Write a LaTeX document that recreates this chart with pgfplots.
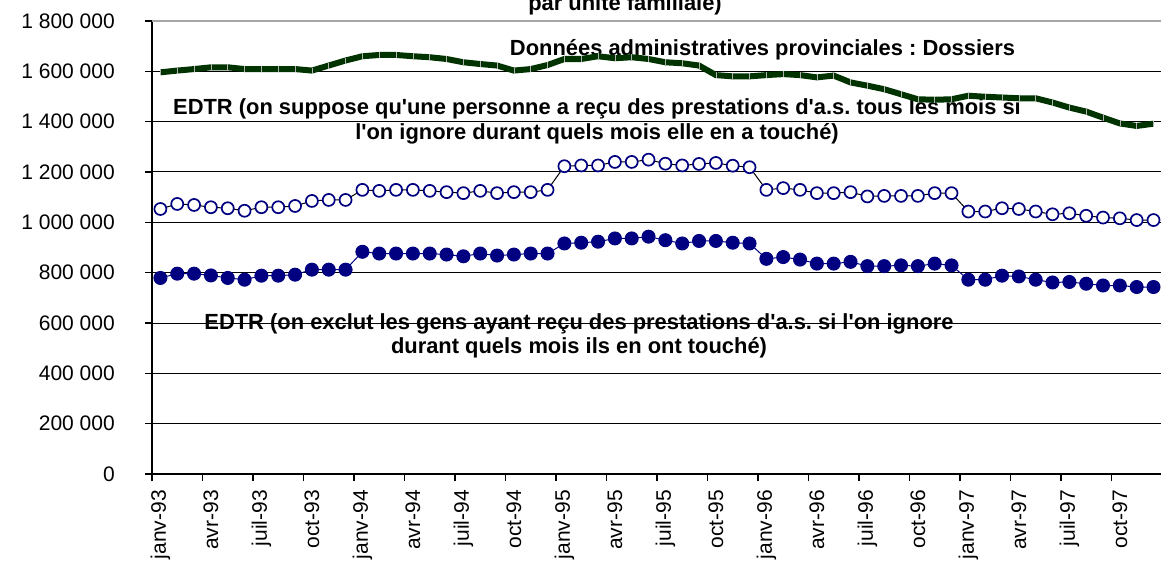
\documentclass[border=0pt]{standalone}
\usepackage{pgfplots}
\pgfplotsset{compat=1.18}
\usepackage{pgfplotstable}
\usepackage{fontspec}
\setmainfont{Liberation Sans}
\definecolor{navyc}{RGB}{0,0,128}
\definecolor{dgreen}{RGB}{0,51,0}
\newcommand{\q}{\textquotesingle}
\frenchspacing

\pgfplotstableread{
x G O F
0 1596 1053 779
1 1603 1073 796
2 1609 1069 796
3 1616 1060 789
4 1616 1056 779
5 1609 1046 772
6 1609 1060 788
7 1609 1060 788
8 1609 1065 792
9 1603 1085 812
10 1623 1089 812
11 1643 1089 812
12 1660 1129 883
13 1665 1125 876
14 1665 1129 876
15 1660 1129 876
16 1656 1125 876
17 1649 1120 872
18 1636 1116 865
19 1629 1125 876
20 1623 1116 868
21 1603 1120 872
22 1609 1120 876
23 1625 1129 876
24 1649 1223 916
25 1649 1226 919
26 1660 1226 923
27 1652 1240 936
28 1656 1240 936
29 1649 1249 943
30 1636 1233 929
31 1632 1226 916
32 1623 1232 926
33 1585 1236 926
34 1580 1225 919
35 1580 1219 916
36 1585 1129 855
37 1589 1136 862
38 1585 1129 852
39 1576 1116 836
40 1583 1116 836
41 1556 1120 843
42 1543 1103 826
43 1529 1105 826
44 1509 1105 829
45 1489 1105 826
46 1487 1116 836
47 1489 1116 829
48 1503 1043 772
49 1499 1043 772
50 1496 1056 788
51 1493 1053 785
52 1493 1043 772
53 1476 1032 761
54 1456 1036 763
55 1440 1026 756
56 1416 1019 749
57 1393 1016 749
58 1383 1009 743
59 1392 1009 743
}\datatable

\begin{document}
\begin{tikzpicture}[x=1pt,y=1pt,font=\fontsize{21}{25}\selectfont]
\tikzset{ann/.style={anchor=base,font=\fontsize{21.9}{26}\selectfont\bfseries}}
% annotations (drawn first, under the grid and series)
\node[ann] at (625,552) {par unité familiale)};
\node[ann] at (762.5,507) {Données administratives provinciales : Dossiers};
\node[ann] at (597,448) {EDTR (on suppose qu\q une personne a reçu des prestations d\q a.s. tous les mois si};
\node[ann] at (597,423) {l\q on ignore durant quels mois elle en a touché)};
\node[ann] at (579,234) {EDTR (on exclut les gens ayant reçu des prestations d\q a.s. si l\q on ignore};
\node[ann] at (579,210) {durant quels mois ils en ont touché)};
\begin{axis}[
  at={(152pt,89pt)}, anchor=south west,
  scale only axis, width=1010pt, height=453pt,
  xmin=-0.5, xmax=59.5, ymin=0, ymax=1800,
  axis x line*=bottom, axis y line*=left,
  axis line style={black, line width=2pt, -},
  ymajorgrids, grid style={black, line width=1pt},
  tick align=outside, major tick length=7pt,
  tick style={black, line width=1.3pt},
  ytick={0,200,...,1800},
  yticklabels={0,200 000,400 000,600 000,800 000,1 000 000,1 200 000,1 400 000,1 600 000,1 800 000},
  yticklabel style={anchor=east, inner sep=0pt},
  yticklabel shift=30pt,
  xtick={-0.5,2.5,...,59.5},
  xticklabels={},
  extra x ticks={0,3,...,57},
  extra x tick labels={janv-93,avr-93,juil-93,oct-93,janv-94,avr-94,juil-94,oct-94,janv-95,avr-95,juil-95,oct-95,janv-96,avr-96,juil-96,oct-96,janv-97,avr-97,juil-97,oct-97},
  extra x tick style={major tick length=0pt, xticklabel style={rotate=90, anchor=east, inner sep=0pt}, xticklabel shift=16pt},
  clip=false,
]
\draw[gray!70, line width=1.5pt] (rel axis cs:0,1) -- (rel axis cs:1,1);
\addplot[dgreen, line width=6pt, mark=|, mark size=3pt, mark options={draw=gray!60, line width=0.6pt}] table[x=x, y=G] {\datatable};
\addplot[black, line width=1pt, mark=*, mark size=6pt, mark options={fill=white, draw=navyc, line width=1.7pt}] table[x=x, y=O] {\datatable};
\addplot[navyc, line width=1pt, mark=*, mark size=6.5pt, mark options={fill=navyc, draw=navyc}] table[x=x, y=F] {\datatable};
\end{axis}
\pgfresetboundingbox
\useasboundingbox (0,0) rectangle (1161,563);
\end{tikzpicture}
\end{document}
